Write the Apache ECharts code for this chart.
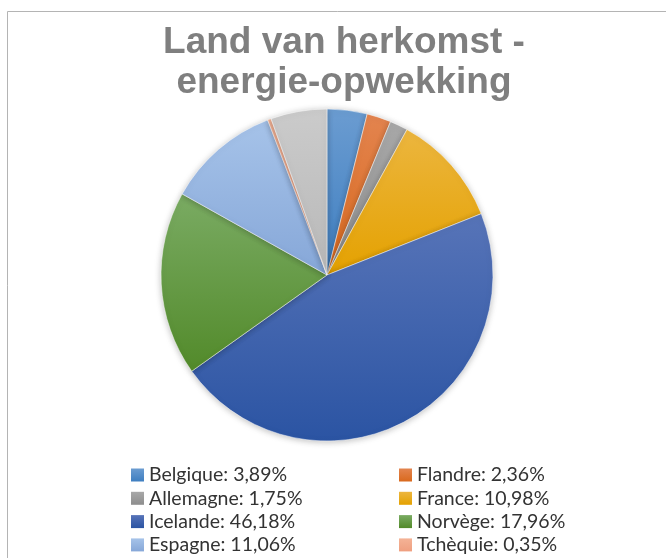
<!DOCTYPE html>
<html><head><meta charset="utf-8">
<script src="https://cdn.jsdelivr.net/npm/echarts@6/dist/echarts.min.js"></script>
<style>html,body{margin:0;padding:0;background:#fff}#c{width:666px;height:558px}</style>
</head><body><div id="c"></div>
<script>
const categories = ['Belgique','Flandre','Allemagne','France','Icelande','Norvège','Espagne','Tchèquie','Overig'];
const values = [3.89, 2.36, 1.75, 10.98, 46.18, 17.96, 11.06, 0.35, 5.47];
const topColors = ['#6b9cd1','#e3844f','#a8a8a8','#ecb63f','#5774b8','#7aab63','#a6c3e9','#f4b396','#cbcbcb'];
const bottomColors = ['#3e7ec0','#d9691d','#8d8d8d','#e4a100','#2b54a3','#528a2a','#86a7d8','#ef9f80','#b8b8b8'];
const legendLeft = ['Belgique','Allemagne','Icelande','Espagne'];
const legendRight = ['Flandre','France','Norvège','Tchèquie'];
const titleText = 'Land van herkomst -\nenergie-opwekking';

function grad(i){
  return new echarts.graphic.LinearGradient(0,0,0,1,[{offset:0,color:topColors[i]},{offset:1,color:bottomColors[i]}]);
}
const data = categories.map((n,i)=>({name:n,value:values[i],itemStyle:{color:grad(i)}}));
const fmt = name => {
  const v = values[categories.indexOf(name)];
  return name + ': ' + v.toFixed(2).replace('.', ',') + '%';
};
const legendBase = {
  orient:'vertical', top:465, height:100, itemWidth:13, itemHeight:13, itemGap:3.3, padding:0,
  icon:'rect', formatter: fmt, selectedMode:false,
  itemStyle:{borderWidth:0},
  textStyle:{fontFamily:'Lato', fontSize:19.5, color:'#333333', lineHeight:20}
};
const chart = echarts.init(document.getElementById('c'), null, {renderer:'canvas'});
chart.setOption({
  backgroundColor:'#fff',
  animation:false,
  title:{text:titleText, left:344, textAlign:'center', top:23, padding:0,
    textStyle:{fontFamily:'Liberation Sans', fontWeight:'bold', fontSize:37, color:'#7f7f7f', lineHeight:40}},
  legend:[
    Object.assign({}, legendBase, {left:131, data:legendLeft}),
    Object.assign({}, legendBase, {left:399, data:legendRight})
  ],
  graphic:[{type:'rect', shape:{x:7.5,y:11.5,width:720,height:620}, style:{fill:'none', stroke:'#b4b4b4', lineWidth:1}, silent:true}],
  series:[{
    type:'pie', center:[327,275], radius:166, startAngle:90, clockwise:true,
    label:{show:false}, labelLine:{show:false}, silent:true,
    itemStyle:{borderColor:'#ffffff', borderWidth:0.5, shadowBlur:6, shadowColor:'rgba(0,0,0,0.25)', shadowOffsetY:1},
    data:data
  }]
});
</script></body></html>
